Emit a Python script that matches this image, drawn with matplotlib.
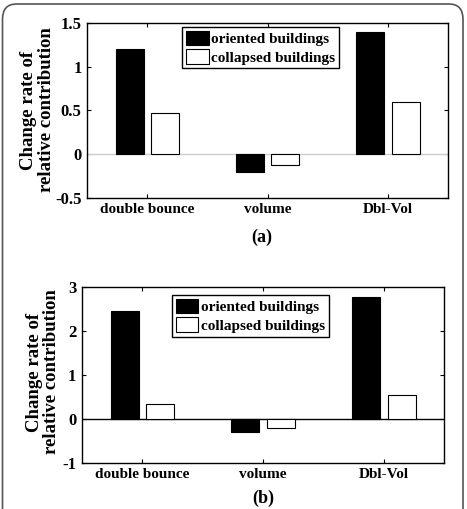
import matplotlib
matplotlib.use("Agg")
import matplotlib.pyplot as plt
from matplotlib.patches import FancyBboxPatch
import numpy as np

categories = ["double bounce", "volume", "Dbl-Vol"]
series_names = ["oriented buildings", "collapsed buildings"]
a_oriented = [1.20, -0.21, 1.40]
a_collapsed = [0.47, -0.12, 0.60]
b_oriented = [2.46, -0.30, 2.77]
b_collapsed = [0.35, -0.21, 0.55]
a_yticks = [-0.5, 0, 0.5, 1, 1.5]
a_yticklabels = ["-0.5", "0", "0.5", "1", "1.5"]
b_yticks = [-1, 0, 1, 2, 3]
b_yticklabels = ["-1", "0", "1", "2", "3"]
ylabel_text = "Change rate of\nrelative contribution"

plt.rcParams['font.family'] = ['Liberation Serif', 'DejaVu Serif']
plt.rcParams['font.weight'] = 'bold'

W, H = 467, 509
fig = plt.figure(figsize=(W / 100, H / 100), dpi=100)

# outer rounded frame
frame = FancyBboxPatch((2.5 / W, -0.05), (463 - 2.5) / W, (H - 4) / H + 0.05,
                       boxstyle="round,pad=0,rounding_size=0.03",
                       transform=fig.transFigure, fill=False,
                       edgecolor="#555555", linewidth=1.2, clip_on=False)
fig.patches.append(frame)

def panel(rect, oriented, collapsed, ylim, yticks, yticklabels, zcolor,
          label, label_xy, ylabel_xy, legend_xy):
    ax = fig.add_axes(rect)
    x = np.arange(1, len(categories) + 1)
    w = 0.232
    off = 0.147
    ax.bar(x - off, oriented, width=w, color="black", edgecolor="black",
           linewidth=0.8, label=series_names[0], zorder=3)
    ax.bar(x + off, collapsed, width=w, color="white", edgecolor="black",
           linewidth=0.8, label=series_names[1], zorder=3)
    ax.axhline(0, color=zcolor, linewidth=1.0, zorder=2)
    ax.set_xlim(0.5, 3.5)
    ax.set_ylim(*ylim)
    ax.set_xticks(x)
    ax.set_xticklabels(categories, fontsize=11, fontweight='bold')
    ax.set_yticks(yticks)
    ax.set_yticklabels(yticklabels, fontsize=12, fontweight='bold')
    ax.tick_params(direction='in', length=3, width=0.8, top=True, right=True,
                   pad=4)
    for s in ax.spines.values():
        s.set_linewidth(1.0)
    fig.text(ylabel_xy[0] / W, 1 - ylabel_xy[1] / H, ylabel_text,
             rotation=90, ha='center', va='center', fontsize=13.5,
             fontweight='bold', linespacing=1.05, multialignment='center')
    leg = ax.legend(loc='upper left',
                    bbox_to_anchor=(legend_xy[0] / W, 1 - legend_xy[1] / H),
                    bbox_transform=fig.transFigure,
                    fontsize=11, frameon=True, fancybox=False,
                    edgecolor='black', framealpha=1, handlelength=1.5,
                    handleheight=1.1, handletextpad=0.15, borderpad=0.25,
                    labelspacing=0.2, borderaxespad=0)
    leg.get_frame().set_linewidth(1.0)
    for t in leg.get_texts():
        t.set_fontweight('bold')
    fig.text(label_xy[0] / W, 1 - label_xy[1] / H, label, ha='center',
             va='center', fontsize=13, fontweight='bold')
    return ax

panel([87.3 / W, (H - 197.7) / H, 360.7 / W, 174.4 / H],
      a_oriented, a_collapsed, (-0.5, 1.5), a_yticks, a_yticklabels, '#cccccc',
      "(a)", (262, 237), (37.5, 110), (182.3, 26.7))
panel([82 / W, (H - 462.7) / H, 362.3 / W, 175.4 / H],
      b_oriented, b_collapsed, (-1, 3), b_yticks, b_yticklabels, 'black',
      "(b)", (263, 498), (43, 372), (171.7, 295))

fig.savefig("out.png", dpi=100)
